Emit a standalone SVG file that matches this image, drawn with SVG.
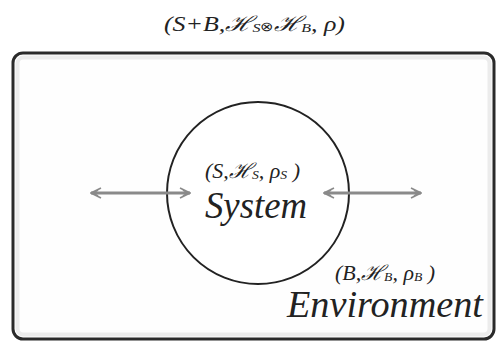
<svg xmlns="http://www.w3.org/2000/svg" width="498" height="346" viewBox="0 0 498 346">
<style>
text{font-family:'Liberation Serif','Times New Roman',serif;font-style:italic;fill:#222}
.m{font-size:21px}
.sub{font-size:13px}
.big{font-size:37px}
.cal{font-family:'DejaVu Serif',serif}
.arr{stroke:#8a8a8a;stroke-width:3;fill:none}
</style>
<defs>
<marker id="ah" viewBox="0 0 12 12" refX="11" refY="6" markerWidth="12" markerHeight="12" markerUnits="userSpaceOnUse" orient="auto-start-reverse">
<path d="M1,1 L11,6 L1,11 M4,3 L9,6 L4,9" stroke="#8a8a8a" stroke-width="1.6" fill="none"/>
</marker>
</defs>
<rect width="498" height="346" fill="#fff"/>
<text class="m" x="164" y="31" textLength="181" lengthAdjust="spacingAndGlyphs">(S+B,<tspan class="cal">ℋ</tspan><tspan class="sub" dy="1">S</tspan><tspan dy="-1" font-style="normal" font-size="13">⊗</tspan><tspan class="cal">ℋ</tspan><tspan class="sub" dy="1">B</tspan><tspan dy="-1">, ρ)</tspan></text>
<g id="environment">
<rect x="13" y="53" width="481" height="286" rx="10" fill="#fefefe" stroke="#2a2a2a" stroke-width="3"/>
<rect x="17.5" y="57.5" width="472" height="277" rx="6" fill="none" stroke="#ececec" stroke-width="4"/>
<text class="m" x="335" y="280" textLength="100" lengthAdjust="spacingAndGlyphs">(B,<tspan class="cal">ℋ</tspan><tspan class="sub" dy="1">B</tspan><tspan dy="-1">, ρ</tspan><tspan class="sub" dy="1">B</tspan><tspan dy="-1"> )</tspan></text>
<text class="big" x="287" y="317" textLength="196" lengthAdjust="spacingAndGlyphs">Environment</text>
</g>
<g id="system">
<circle cx="258" cy="193" r="91" fill="#fff" stroke="#222" stroke-width="2"/>
<text class="m" x="205" y="178" textLength="95" lengthAdjust="spacingAndGlyphs">(S,<tspan class="cal">ℋ</tspan><tspan class="sub" dy="1">S</tspan><tspan dy="-1">, ρ</tspan><tspan class="sub" dy="1">S</tspan><tspan dy="-1"> )</tspan></text>
<text class="big" x="205" y="218" textLength="102" lengthAdjust="spacingAndGlyphs">System</text>
</g>
<g id="connectors">
<line class="arr" x1="91" y1="193" x2="190" y2="193" marker-start="url(#ah)" marker-end="url(#ah)"/>
<line class="arr" x1="324" y1="193" x2="421" y2="193" marker-start="url(#ah)" marker-end="url(#ah)"/>
</g>
</svg>
